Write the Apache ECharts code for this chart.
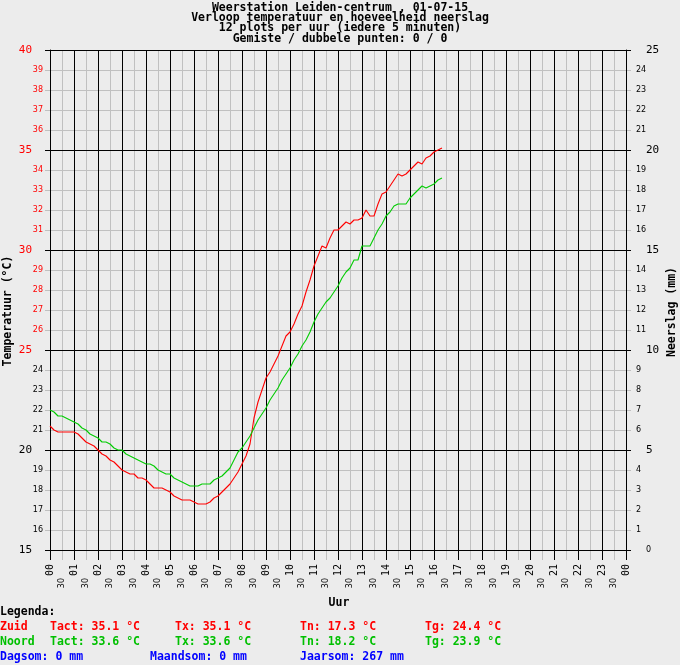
<!DOCTYPE html>
<html>
<head>
<meta charset="utf-8">
<script src="https://cdn.jsdelivr.net/npm/echarts@6/dist/echarts.min.js"></script>
<style>
html,body{margin:0;padding:0;background:#ECECEC;}
#chart{width:680px;height:665px;}
</style>
</head>
<body>
<div id="chart"></div>
<script>
// ---- data ----
const titleLines = [
  'Weerstation Leiden-centrum , 01-07-15',
  'Verloop temperatuur en hoeveelheid neerslag',
  '12 plots per uur (iedere 5 minuten)',
  'Gemiste / dubbele punten: 0 / 0'
];
const timeLabels = [
  '00:00','00:10','00:20','00:30','00:40','00:50',
  '01:00','01:10','01:20','01:30','01:40','01:50',
  '02:00','02:10','02:20','02:30','02:40','02:50',
  '03:00','03:10','03:20','03:30','03:40','03:50',
  '04:00','04:10','04:20','04:30','04:40','04:50',
  '05:00','05:10','05:20','05:30','05:40','05:50',
  '06:00','06:10','06:20','06:30','06:40','06:50',
  '07:00','07:10','07:20','07:30','07:40','07:50',
  '08:00','08:10','08:20','08:30','08:40','08:50',
  '09:00','09:10','09:20','09:30','09:40','09:50',
  '10:00','10:10','10:20','10:30','10:40','10:50',
  '11:00','11:10','11:20','11:30','11:40','11:50',
  '12:00','12:10','12:20','12:30','12:40','12:50',
  '13:00','13:10','13:20','13:30','13:40','13:50',
  '14:00','14:10','14:20','14:30','14:40','14:50',
  '15:00','15:10','15:20','15:30','15:40','15:50',
  '16:00','16:10','16:20'
];
const zuidTemp = [
  21.2,21.0,20.9,20.9,20.9,20.9,
  20.9,20.8,20.6,20.4,20.3,20.2,
  20.0,19.8,19.7,19.5,19.4,19.2,
  19.0,18.9,18.8,18.8,18.6,18.6,
  18.5,18.3,18.1,18.1,18.1,18.0,
  17.9,17.7,17.6,17.5,17.5,17.5,
  17.4,17.3,17.3,17.3,17.4,17.6,
  17.7,17.9,18.1,18.3,18.6,18.9,
  19.3,19.7,20.3,21.6,22.4,23.0,
  23.6,23.9,24.3,24.7,25.2,25.7,
  25.9,26.3,26.8,27.2,27.9,28.5,
  29.2,29.7,30.2,30.1,30.6,31.0,
  31.0,31.2,31.4,31.3,31.5,31.5,
  31.6,32.0,31.7,31.7,32.3,32.8,
  32.9,33.2,33.5,33.8,33.7,33.8,
  34.0,34.2,34.4,34.3,34.6,34.7,
  34.9,35.0,35.1
];
const noordTemp = [
  22.0,21.9,21.7,21.7,21.6,21.5,
  21.4,21.3,21.1,21.0,20.8,20.7,
  20.6,20.4,20.4,20.3,20.1,20.0,
  20.0,19.8,19.7,19.6,19.5,19.4,
  19.3,19.3,19.2,19.0,18.9,18.8,
  18.8,18.6,18.5,18.4,18.3,18.2,
  18.2,18.2,18.3,18.3,18.3,18.5,
  18.6,18.7,18.9,19.1,19.5,19.9,
  20.1,20.4,20.7,21.1,21.5,21.8,
  22.1,22.5,22.8,23.1,23.5,23.8,
  24.1,24.5,24.8,25.2,25.5,25.9,
  26.4,26.8,27.1,27.4,27.6,27.9,
  28.2,28.6,28.9,29.1,29.5,29.5,
  30.2,30.2,30.2,30.6,31.0,31.3,
  31.7,31.9,32.2,32.3,32.3,32.3,
  32.6,32.8,33.0,33.2,33.1,33.2,
  33.3,33.5,33.6
];
const hourLabels = ['00','01','02','03','04','05','06','07','08','09','10','11',
  '12','13','14','15','16','17','18','19','20','21','22','23','00'];
const halfHourLabel = '30';
const legendTitle = 'Legenda:';
const zuidLegend = ['Zuid', 'Tact: 35.1 °C', 'Tx: 35.1 °C', 'Tn: 17.3 °C', 'Tg: 24.4 °C'];
const noordLegend = ['Noord', 'Tact: 33.6 °C', 'Tx: 33.6 °C', 'Tn: 18.2 °C', 'Tg: 23.9 °C'];
const rainLegend = ['Dagsom: 0 mm', 'Maandsom: 0 mm', 'Jaarsom: 267 mm'];

// ---- chart ----
const RED = '#ff0000', GREEN = '#00cc00', GREEN_TXT = '#00c000', BLUE = '#0000ff';
const GRAY = '#c0c0c0', BLACK = '#000000';
const MONO = '"DejaVu Sans Mono", "Liberation Mono", monospace';
const boldFont = 'bold 11.5px ' + MONO;

function toHours(t) { const p = t.split(':'); return Number(p[0]) + Number(p[1]) / 60; }
const zuidData = timeLabels.map((t, i) => [toHours(t), zuidTemp[i]]);
const noordData = timeLabels.map((t, i) => [toHours(t), noordTemp[i]]);

function txt(x, y, text, fill, extra) {
  return Object.assign({ type: 'text', x: x, y: y, silent: true,
    style: { text: text, fill: fill, font: boldFont, verticalAlign: 'middle', align: 'left' } }, extra || {});
}
const graphics = [];
graphics.push(txt(0, 612.5, legendTitle, BLACK));
const colX = [0, 50, 175, 300, 425];
zuidLegend.forEach((s, i) => graphics.push(txt(colX[i], 627.5, s, RED)));
noordLegend.forEach((s, i) => graphics.push(txt(colX[i], 642.5, s, GREEN_TXT)));
const rainX = [0, 150, 300];
rainLegend.forEach((s, i) => graphics.push(txt(rainX[i], 657.5, s, BLUE)));
graphics.push({ type: 'text', x: 339, y: 603, silent: true,
  style: { text: 'Uur', fill: BLACK, font: boldFont, align: 'center', verticalAlign: 'middle' } });
graphics.push({ type: 'text', x: 8, y: 311, rotation: Math.PI / 2, silent: true,
  style: { text: 'Temperatuur (°C)', fill: BLACK, font: boldFont, align: 'center', verticalAlign: 'middle' } });
graphics.push({ type: 'text', x: 672, y: 312, rotation: Math.PI / 2, silent: true,
  style: { text: 'Neerslag (mm)', fill: BLACK, font: boldFont, align: 'center', verticalAlign: 'middle' } });

const chart = echarts.init(document.getElementById('chart'), null, { renderer: 'canvas' });
chart.setOption({
  animation: false,
  backgroundColor: '#ECECEC',
  title: {
    text: titleLines.join('\n'),
    left: 'center', top: -2,
    textStyle: { fontFamily: MONO, fontWeight: 'bold', fontSize: 11.5, lineHeight: 10.2, color: BLACK }
  },
  grid: { left: 50, top: 50, width: 576, height: 500, containLabel: false, outerBoundsMode: 'none' },
  xAxis: [
    { // half-hour grid (gray) + "30" labels
      type: 'value', min: 0, max: 24, interval: 0.5, position: 'bottom', z: 1,
      axisLine: { show: false },
      axisTick: { show: true, length: 10, lineStyle: { color: GRAY, width: 1 } },
      splitLine: { show: true, lineStyle: { color: GRAY, width: 1 } },
      axisLabel: { show: true, rotate: 90, margin: 28, fontFamily: 'DejaVu Sans', fontSize: 8, color: BLACK,
        formatter: v => (Math.abs(v - Math.round(v)) > 0.01 ? halfHourLabel : '') }
    },
    { // hour grid (black) + hour labels
      type: 'value', min: 0, max: 24, interval: 1, position: 'bottom', z: 2,
      axisLine: { show: true, lineStyle: { color: BLACK, width: 1 } },
      axisTick: { show: true, length: 10, lineStyle: { color: BLACK, width: 1 } },
      splitLine: { show: true, lineStyle: { color: BLACK, width: 1 } },
      axisLabel: { show: true, rotate: 90, margin: 14, fontFamily: MONO, fontSize: 10, color: BLACK,
        formatter: v => hourLabels[Math.round(v)] }
    }
  ],
  yAxis: [
    { // temperature 1-degree grid
      type: 'value', min: 15, max: 40, interval: 1, position: 'left', z: 1,
      axisLine: { show: false },
      axisTick: { show: true, length: 5, lineStyle: { color: GRAY, width: 1 } },
      splitLine: { show: true, lineStyle: { color: GRAY, width: 1 } },
      axisLabel: { show: true, margin: 7, fontFamily: 'DejaVu Sans', fontSize: 8,
        color: v => (Number(v) >= 25 ? RED : BLACK),
        formatter: v => (v % 5 === 0 ? '' : String(v)) }
    },
    { // temperature 5-degree grid
      type: 'value', min: 15, max: 40, interval: 5, position: 'left', z: 2,
      axisLine: { show: true, lineStyle: { color: BLACK, width: 1 } },
      axisTick: { show: true, length: 5, lineStyle: { color: BLACK, width: 1 } },
      splitLine: { show: true, lineStyle: { color: BLACK, width: 1 } },
      axisLabel: { show: true, margin: 18, fontFamily: MONO, fontSize: 11,
        color: v => (Number(v) >= 25 ? RED : BLACK),
        formatter: v => String(v) }
    },
    { // precipitation minor labels
      type: 'value', min: 0, max: 25, interval: 1, position: 'right', z: 1,
      axisLine: { show: false },
      axisTick: { show: true, length: 5, lineStyle: { color: GRAY, width: 1 } },
      splitLine: { show: false },
      axisLabel: { show: true, margin: 10, fontFamily: 'DejaVu Sans', fontSize: 8, color: BLACK,
        formatter: v => (v % 5 === 0 ? '' : String(v)) }
    },
    { // precipitation major labels
      type: 'value', min: 0, max: 25, interval: 5, position: 'right', z: 2,
      axisLine: { show: true, lineStyle: { color: BLACK, width: 1 } },
      axisTick: { show: true, length: 5, lineStyle: { color: BLACK, width: 1 } },
      splitLine: { show: false },
      axisLabel: { show: true, margin: 20, color: BLACK,
        formatter: v => (v === 0 ? '{s|0}' : '{b|' + v + '}'),
        rich: { s: { fontFamily: 'DejaVu Sans', fontSize: 8 }, b: { fontFamily: MONO, fontSize: 11 } } }
    }
  ],
  series: [
    { name: 'Zuid', type: 'line', xAxisIndex: 1, yAxisIndex: 1, data: zuidData, z: 10,
      showSymbol: false, symbol: 'none', lineStyle: { color: RED, width: 1.1 }, itemStyle: { color: RED } },
    { name: 'Noord', type: 'line', xAxisIndex: 1, yAxisIndex: 1, data: noordData, z: 10,
      showSymbol: false, symbol: 'none', lineStyle: { color: GREEN, width: 1.1 }, itemStyle: { color: GREEN } }
  ],
  graphic: graphics
});
</script>
</body>
</html>
